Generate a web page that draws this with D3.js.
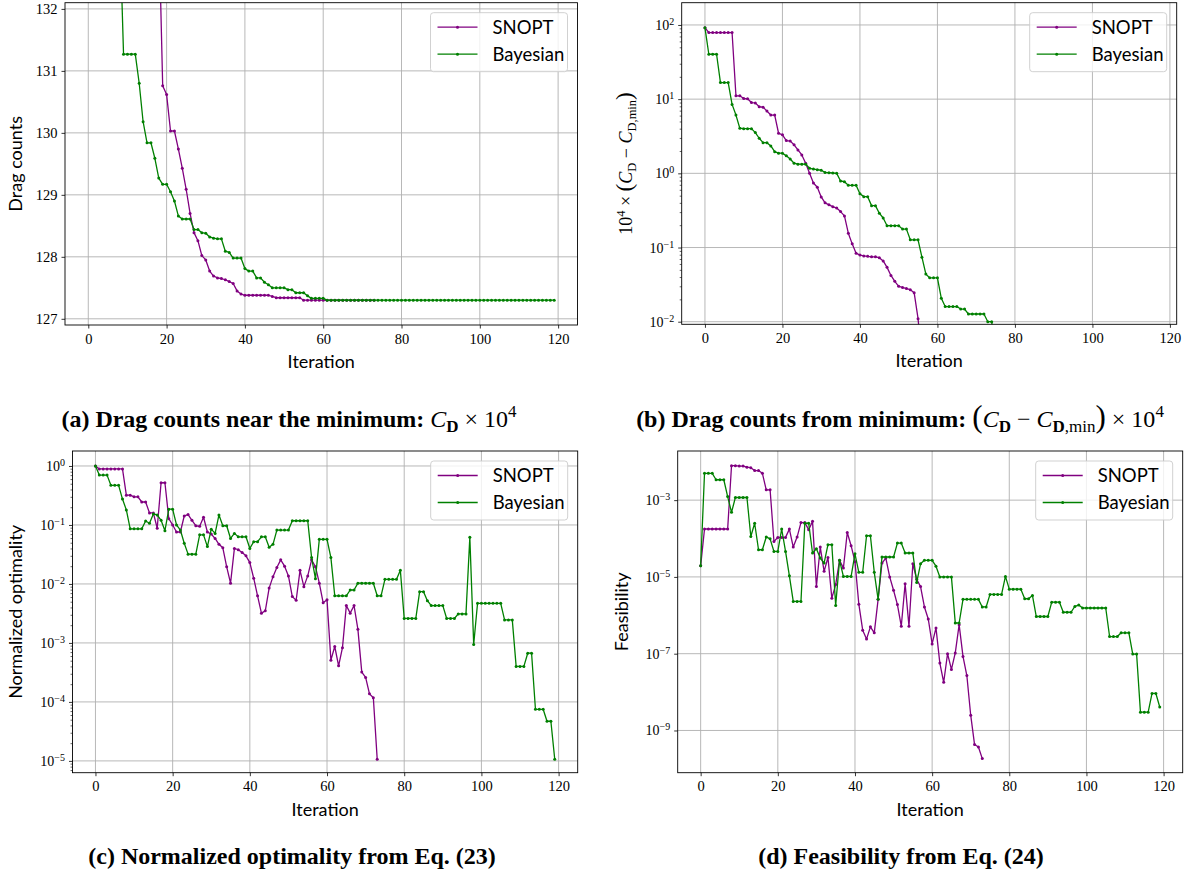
<!DOCTYPE html>
<html>
<head>
<meta charset="utf-8">
<script src="https://cdn.jsdelivr.net/npm/d3@7/dist/d3.min.js"></script>
<style>
  body { margin: 0; background: #fff; }
  svg { display: block; }
</style>
</head>
<body>
<svg id="fig" width="1188" height="882"></svg>
<script>
// shared
const iterTicks = [0, 20, 40, 60, 80, 100, 120];
const seriesNames = ["SNOPT", "Bayesian"];
const seriesColors = ["#800080", "#008000"];

// (a) drag counts, C_D x 1e4
const dragSnopt = [
  219.3, 206.3, 206.3, 206.3, 206.3, 206.3, 206.3, 206.3, 138.4, 138.4,
  137.5, 137.4, 136.3, 136.2, 135.2, 135.1, 134.2, 133.4, 133.4, 130.76,
  130.62, 130.03, 130.03, 129.74, 129.43, 129.09, 128.70, 128.39, 128.26, 128.02,
  127.95, 127.77, 127.69, 127.66, 127.65, 127.63, 127.60, 127.57, 127.45, 127.40,
  127.38, 127.38, 127.38, 127.38, 127.38, 127.38, 127.38, 127.36, 127.34, 127.34,
  127.34, 127.34, 127.34, 127.34, 127.34, 127.30, 127.30, 127.30, 127.30, 127.30,
  127.30, 127.30, 127.30, 127.30, 127.30, 127.30, 127.30, 127.30, 127.30, 127.30,
  127.30, 127.30, 127.30, 127.30
];
const dragBayes = [
  219.3, 167.6, 167.6, 167.6, 144.0, 144.0, 144.0, 135.8, 133.4, 131.27,
  131.27, 131.27, 131.27, 130.80, 130.18, 129.84, 129.84, 129.59, 129.27, 129.17,
  129.17, 129.05, 128.90, 128.66, 128.61, 128.61, 128.61, 128.44, 128.44, 128.39,
  128.38, 128.32, 128.30, 128.29, 128.29, 128.09, 128.07, 127.98, 127.98, 127.98,
  127.81, 127.77, 127.77, 127.66, 127.66, 127.59, 127.55, 127.50, 127.50, 127.50,
  127.50, 127.47, 127.47, 127.42, 127.42, 127.42, 127.37, 127.33, 127.33, 127.33,
  127.33, 127.30, 127.30, 127.30, 127.30, 127.30, 127.30, 127.30, 127.30, 127.30,
  127.30, 127.30, 127.30, 127.30, 127.30, 127.30, 127.30, 127.30, 127.30, 127.30,
  127.30, 127.30, 127.30, 127.30, 127.30, 127.30, 127.30, 127.30, 127.30, 127.30,
  127.30, 127.30, 127.30, 127.30, 127.30, 127.30, 127.30, 127.30, 127.30, 127.30,
  127.30, 127.30, 127.30, 127.30, 127.30, 127.30, 127.30, 127.30, 127.30, 127.30,
  127.30, 127.30, 127.30, 127.30, 127.30, 127.30, 127.30, 127.30, 127.30, 127.30
];
const dragTicks = [127, 128, 129, 130, 131, 132];

// (b) 1e4 x (C_D - C_D,min)
const deltaSnopt = [
  92, 79, 79, 79, 79, 79, 79, 79, 11.1, 11.1,
  10.2, 10.1, 9.0, 8.9, 7.9, 7.8, 6.9, 6.1, 6.1, 3.47,
  3.3, 2.76, 2.72, 2.42, 2.07, 1.77, 1.37, 1.0, 0.74, 0.65,
  0.48, 0.40, 0.376, 0.355, 0.34, 0.305, 0.267, 0.156, 0.112, 0.084,
  0.079, 0.077, 0.076, 0.075, 0.075, 0.073, 0.066, 0.054, 0.042, 0.035,
  0.030, 0.029, 0.028, 0.027, 0.0245, 0.011, 0.003
];
const deltaBayes = [
  92, 40.3, 40.3, 40.3, 16.7, 16.7, 16.7, 8.5, 6.1, 4.05,
  4.0, 4.0, 4.0, 3.54, 2.97, 2.59, 2.59, 2.34, 1.96, 1.87,
  1.87, 1.72, 1.56, 1.37, 1.33, 1.33, 1.33, 1.17, 1.14, 1.12,
  1.10, 1.03, 1.02, 1.01, 1.0, 0.79, 0.77, 0.69, 0.69, 0.69,
  0.53, 0.485, 0.485, 0.367, 0.367, 0.29, 0.25, 0.197, 0.197, 0.197,
  0.197, 0.177, 0.177, 0.127, 0.127, 0.127, 0.074, 0.044, 0.039, 0.039,
  0.039, 0.0207, 0.016, 0.016, 0.016, 0.016, 0.0148, 0.0148, 0.0127, 0.0127,
  0.0127, 0.0127, 0.0127, 0.010, 0.010, 0.004
];
const deltaTicks = [-2, -1, 0, 1, 2];

// (c) normalized optimality
const optSnopt = [
  1.0, 0.89, 0.89, 0.89, 0.89, 0.89, 0.89, 0.89, 0.32, 0.32,
  0.30, 0.30, 0.245, 0.245, 0.16, 0.16, 0.088, 0.52, 0.52, 0.128,
  0.10, 0.076, 0.076, 0.142, 0.15, 0.12, 0.097, 0.095, 0.135, 0.076,
  0.07, 0.059, 0.047, 0.041, 0.0195, 0.0103, 0.040, 0.038, 0.034, 0.030,
  0.023, 0.0125, 0.0063, 0.0032, 0.0035, 0.0085, 0.0133, 0.019, 0.0256, 0.020,
  0.0137, 0.0061, 0.0053, 0.017, 0.0090, 0.0137, 0.0256, 0.0196, 0.0103, 0.0048,
  0.0054, 0.00051, 0.00087, 0.00041, 0.00083, 0.0043, 0.0032, 0.0043, 0.0017, 0.00032,
  0.00026, 0.000137, 0.000118, 1.07e-5
];
const optBayes = [
  1.0, 0.70, 0.70, 0.70, 0.47, 0.47, 0.47, 0.275, 0.18, 0.086,
  0.086, 0.086, 0.086, 0.117, 0.107, 0.154, 0.148, 0.12, 0.08, 0.185,
  0.185, 0.10, 0.082, 0.049, 0.032, 0.032, 0.032, 0.068, 0.068, 0.043,
  0.085, 0.072, 0.148, 0.097, 0.097, 0.059, 0.072, 0.063, 0.063, 0.063,
  0.040, 0.052, 0.052, 0.063, 0.063, 0.042, 0.047, 0.082, 0.082, 0.082,
  0.082, 0.118, 0.118, 0.118, 0.118, 0.118, 0.028, 0.0123, 0.057, 0.057,
  0.057, 0.028, 0.0063, 0.0063, 0.0063, 0.0063, 0.0079, 0.0079, 0.0103, 0.0103,
  0.0103, 0.0103, 0.0103, 0.0063, 0.0063, 0.012, 0.012, 0.012, 0.012, 0.017,
  0.0026, 0.0026, 0.0026, 0.0026, 0.0074, 0.0074, 0.0052, 0.0043, 0.0043, 0.0043,
  0.0043, 0.0026, 0.0026, 0.0026, 0.0031, 0.0031, 0.0031, 0.062, 0.00094, 0.0047,
  0.0047, 0.0047, 0.0047, 0.0047, 0.0047, 0.0047, 0.00246, 0.00246, 0.00246, 0.0004,
  0.0004, 0.0004, 0.00067, 0.00067, 7.5e-5, 7.5e-5, 7.5e-5, 4.7e-5, 4.7e-5, 1.07e-5
];
const optTicks = [-5, -4, -3, -2, -1, 0];

// (d) feasibility
const feasSnopt = [
  1.94e-5, 1.77e-4, 1.77e-4, 1.77e-4, 1.77e-4, 1.77e-4, 1.77e-4, 1.77e-4, 7.9e-3, 7.9e-3,
  7.7e-3, 7.7e-3, 7.2e-3, 7.0e-3, 5.9e-3, 5.9e-3, 5.0e-3, 1.86e-3, 1.86e-3, 8.4e-5,
  1.07e-4, 1.07e-4, 1.07e-4, 1.76e-4, 6.0e-5, 1.09e-4, 2.6e-4, 2.6e-4, 1.7e-4, 2.8e-4,
  5.6e-6, 6.0e-5, 1.4e-5, 3.2e-5, 2.8e-6, 6.3e-6, 2.7e-5, 1.7e-5, 1.44e-4, 6.5e-5,
  2.5e-5, 1.95e-6, 4.1e-7, 2.4e-7, 5.0e-7, 3.5e-7, 2.6e-6, 2.3e-5, 3.1e-5, 1.0e-5,
  4.5e-6, 1.9e-6, 5.2e-7, 6.6e-6, 5.2e-7, 2.2e-5, 8.7e-6, 5.6e-6, 1.65e-6, 8.0e-7,
  1.8e-7, 4.7e-7, 5.7e-8, 1.8e-8, 1.0e-7, 3.9e-8, 1.05e-7, 5.7e-7, 8.5e-8, 2.7e-8,
  2.5e-9, 4.3e-10, 3.7e-10, 1.85e-10
];
const feasBayes = [
  1.94e-5, 5.0e-3, 5.0e-3, 5.0e-3, 3.4e-3, 3.4e-3, 3.4e-3, 1.24e-3, 4.8e-4, 1.17e-3,
  1.17e-3, 1.17e-3, 1.17e-3, 1.13e-4, 2.5e-4, 5.1e-5, 5.1e-5, 1.1e-4, 9.8e-5, 4.6e-5,
  4.6e-5, 1.77e-4, 4.6e-5, 1.07e-5, 2.3e-6, 2.3e-6, 2.3e-6, 2.5e-4, 2.5e-4, 4.2e-5,
  5.4e-5, 3.1e-5, 2.3e-5, 6.9e-5, 6.9e-5, 1.8e-6, 2.7e-5, 1.03e-5, 1.03e-5, 1.03e-5,
  4.0e-5, 1.32e-5, 1.32e-5, 1.18e-4, 1.18e-4, 1.32e-5, 2.6e-6, 3.3e-5, 3.3e-5, 3.3e-5,
  3.3e-5, 7.6e-5, 7.6e-5, 4.2e-5, 4.2e-5, 4.2e-5, 7.2e-6, 2.2e-5, 2.7e-5, 2.7e-5,
  2.7e-5, 1.9e-5, 1.0e-5, 1.0e-5, 1.0e-5, 1.0e-5, 6.3e-7, 6.3e-7, 2.6e-6, 2.6e-6,
  2.6e-6, 2.6e-6, 2.6e-6, 1.65e-6, 1.65e-6, 3.5e-6, 3.5e-6, 3.5e-6, 3.5e-6, 1.03e-5,
  4.8e-6, 4.8e-6, 4.8e-6, 4.8e-6, 2.7e-6, 2.7e-6, 3.3e-6, 9.3e-7, 9.3e-7, 9.3e-7,
  9.3e-7, 2.2e-6, 2.2e-6, 2.2e-6, 1.2e-6, 1.2e-6, 1.2e-6, 1.7e-6, 1.85e-6, 1.55e-6,
  1.55e-6, 1.55e-6, 1.55e-6, 1.55e-6, 1.55e-6, 1.55e-6, 2.8e-7, 2.8e-7, 2.8e-7, 3.5e-7,
  3.5e-7, 3.5e-7, 9.8e-8, 9.8e-8, 3.0e-9, 3.0e-9, 3.0e-9, 9.2e-9, 9.2e-9, 4.1e-9
];
const feasTicks = [-9, -7, -5, -3];

const svg = d3.select("#fig");
const gridColor = "#b0b0b0";
const serif = '"Liberation Serif", "Times New Roman", serif';
const sans = 'Lato, "DejaVu Sans", sans-serif';

function logLabel(sel, p) {
  sel.text("10").style("font-size", "14px");
  sel.append("tspan").attr("dy", "-0.5em").style("font-size", "10px")
    .text(p < 0 ? "\u2212" + (-p) : String(p));
}

function drawPanel(cfg) {
  const g = svg.append("g");
  const x = d3.scaleLinear().domain(cfg.xDomain).range([cfg.x0, cfg.x1]);
  const y = (cfg.log ? d3.scaleLog() : d3.scaleLinear()).domain(cfg.yDomain).range([cfg.y1, cfg.y0]);
  const yVals = cfg.log ? cfg.yTicks.map(p => Math.pow(10, p)) : cfg.yTicks;

  // grid
  g.append("g").selectAll("line").data(iterTicks).join("line")
    .attr("x1", d => x(d)).attr("x2", d => x(d))
    .attr("y1", cfg.y0).attr("y2", cfg.y1)
    .attr("stroke", gridColor).attr("stroke-width", 0.9);
  g.append("g").selectAll("line").data(yVals).join("line")
    .attr("x1", cfg.x0).attr("x2", cfg.x1)
    .attr("y1", d => y(d)).attr("y2", d => y(d))
    .attr("stroke", gridColor).attr("stroke-width", 0.9);

  // series
  const clipId = "clip-" + cfg.id;
  svg.append("clipPath").attr("id", clipId).append("rect")
    .attr("x", cfg.x0).attr("y", cfg.y0)
    .attr("width", cfg.x1 - cfg.x0).attr("height", cfg.y1 - cfg.y0);
  const plot = g.append("g").attr("clip-path", `url(#${clipId})`);
  const line = d3.line().x((d, i) => x(i)).y(d => y(d));
  cfg.series.forEach((vals, k) => {
    plot.append("path").datum(vals)
      .attr("d", line).attr("fill", "none")
      .attr("stroke", seriesColors[k]).attr("stroke-width", 1.3)
      .attr("stroke-linejoin", "round");
    plot.append("g").selectAll("circle").data(vals).join("circle")
      .attr("cx", (d, i) => x(i)).attr("cy", d => y(d)).attr("r", 1.5)
      .attr("fill", seriesColors[k]);
  });

  // axes
  const xAxis = g.append("g").attr("transform", `translate(0,${cfg.y1})`)
    .call(d3.axisBottom(x).tickValues(iterTicks).tickSize(3.5).tickPadding(5));
  xAxis.select(".domain").remove();
  xAxis.selectAll(".tick line").attr("stroke", "#000").attr("stroke-width", 0.8);
  xAxis.selectAll(".tick text").style("font-family", serif).style("font-size", "14.5px");

  const yAxis = g.append("g").attr("transform", `translate(${cfg.x0},0)`)
    .call(d3.axisLeft(y).tickValues(yVals).tickSize(3.5).tickPadding(4)
      .tickFormat(cfg.log ? () => "" : d3.format("d")));
  yAxis.select(".domain").remove();
  yAxis.selectAll(".tick line").attr("stroke", "#000").attr("stroke-width", 0.8);
  yAxis.selectAll(".tick text").style("font-family", serif).style("font-size", "14.5px");
  if (cfg.log) {
    yAxis.selectAll(".tick text").each(function(d, i) {
      logLabel(d3.select(this), cfg.yTicks[i]);
    });
  }
  if (cfg.minor) {
    const lo = Math.floor(Math.log10(cfg.yDomain[0]));
    const hi = Math.ceil(Math.log10(cfg.yDomain[1]));
    const minor = [];
    for (let p = lo; p <= hi; p++) {
      for (let m = 2; m <= 9; m++) {
        const v = m * Math.pow(10, p);
        if (v >= cfg.yDomain[0] && v <= cfg.yDomain[1]) minor.push(v);
      }
    }
    const mAxis = g.append("g").attr("transform", `translate(${cfg.x0},0)`)
      .call(d3.axisLeft(y).tickValues(minor).tickSize(2).tickFormat(""));
    mAxis.select(".domain").remove();
    mAxis.selectAll(".tick line").attr("stroke", "#000").attr("stroke-width", 0.6);
  }

  // spines
  g.append("rect")
    .attr("x", cfg.x0).attr("y", cfg.y0)
    .attr("width", cfg.x1 - cfg.x0).attr("height", cfg.y1 - cfg.y0)
    .attr("fill", "none").attr("stroke", "#000").attr("stroke-width", 0.9);

  // axis labels
  g.append("text")
    .style("font-family", sans).style("font-size", "18px")
    .attr("x", (cfg.x0 + cfg.x1) / 2).attr("y", cfg.y1 + 43)
    .attr("text-anchor", "middle").text("Iteration");
  const yl = g.append("text")
    .style("font-family", sans).style("font-size", "18px")
    .attr("transform", `translate(${cfg.yLabelX},${(cfg.y0 + cfg.y1) / 2}) rotate(-90)`)
    .attr("text-anchor", "middle");
  cfg.yLabel(yl);

  // legend
  const lx = cfg.x1 - 147, ly = cfg.y0 + 10;
  const lg = g.append("g").attr("transform", `translate(${lx},${ly})`);
  lg.append("rect").attr("width", 137).attr("height", 59).attr("rx", 3)
    .attr("fill", "#fff").attr("fill-opacity", 0.8)
    .attr("stroke", "#cccccc").attr("stroke-width", 0.9);
  seriesNames.forEach((name, k) => {
    const cy = 14.5 + k * 27;
    lg.append("line").attr("x1", 7).attr("x2", 47).attr("y1", cy).attr("y2", cy)
      .attr("stroke", seriesColors[k]).attr("stroke-width", 1.3);
    lg.append("circle").attr("cx", 27).attr("cy", cy).attr("r", 1.5).attr("fill", seriesColors[k]);
    lg.append("text").style("font-family", sans).style("font-size", "18.5px")
      .attr("x", 62).attr("y", cy + 6.5).text(name);
  });
}

drawPanel({
  id: "a", x0: 65, x1: 577.5, y0: 2.7, y1: 325,
  xDomain: [-5.95, 124.95], yDomain: [126.9, 132.1], log: false,
  yTicks: dragTicks, series: [dragSnopt, dragBayes], yLabelX: 22,
  yLabel: t => t.text("Drag counts")
});

drawPanel({
  id: "b", x0: 681.7, x1: 1176.7, y0: 2.7, y1: 324.3,
  xDomain: [-6.0, 121.75], yDomain: [Math.pow(10, -2.035), Math.pow(10, 2.30)], log: true, minor: true,
  yTicks: deltaTicks, series: [deltaSnopt, deltaBayes], yLabelX: 632,
  yLabel: t => {
    t.style("font-family", serif).style("font-size", "18px");
    t.append("tspan").text("10");
    t.append("tspan").attr("dy", -7).style("font-size", "12.5px").text("4");
    t.append("tspan").attr("dy", 7).text(" \u00d7 ");
    t.append("tspan").style("font-size", "23px").text("(");
    t.append("tspan").style("font-style", "italic").text("C");
    t.append("tspan").attr("dy", 4).style("font-size", "12.5px").text("D");
    t.append("tspan").attr("dy", -4).text(" \u2212 ");
    t.append("tspan").style("font-style", "italic").text("C");
    t.append("tspan").attr("dy", 4).style("font-size", "12.5px").text("D,min");
    t.append("tspan").attr("dy", -4).style("font-size", "23px").text(")");
  }
});

drawPanel({
  id: "c", x0: 72.5, x1: 577.7, y0: 451, y1: 772.7,
  xDomain: [-5.95, 124.95], yDomain: [Math.pow(10, -5.2), Math.pow(10, 0.254)], log: true, minor: true,
  yTicks: optTicks, series: [optSnopt, optBayes], yLabelX: 22,
  yLabel: t => t.text("Normalized optimality")
});

drawPanel({
  id: "d", x0: 677.7, x1: 1182.7, y0: 451, y1: 772.7,
  xDomain: [-5.95, 124.95], yDomain: [Math.pow(10, -10.1), Math.pow(10, -1.72)], log: true, minor: false,
  yTicks: feasTicks, series: [feasSnopt, feasBayes], yLabelX: 628,
  yLabel: t => t.text("Feasibility")
});

// captions
function caption(xc, yb, build) {
  const t = svg.append("text")
    .style("font-family", serif).style("font-size", "24px").style("font-weight", "bold")
    .attr("x", xc).attr("y", yb).attr("text-anchor", "middle");
  build(t);
}
caption(289, 426.5, t => {
  t.append("tspan").text("(a) Drag counts near the minimum: ");
  t.append("tspan").style("font-style", "italic").style("font-weight", "normal").text("C");
  t.append("tspan").attr("dy", 5).style("font-size", "17px").text("D");
  t.append("tspan").attr("dy", -5).style("font-weight", "normal").text(" \u00d7 10");
  t.append("tspan").attr("dy", -10).style("font-size", "17px").style("font-weight", "normal").text("4");
});
caption(900, 426.5, t => {
  t.append("tspan").text("(b) Drag counts from minimum: ");
  t.append("tspan").style("font-size", "31px").style("font-weight", "normal").text("(");
  t.append("tspan").style("font-style", "italic").style("font-weight", "normal").text("C");
  t.append("tspan").attr("dy", 5).style("font-size", "17px").text("D");
  t.append("tspan").attr("dy", -5).style("font-weight", "normal").text(" \u2212 ");
  t.append("tspan").style("font-style", "italic").style("font-weight", "normal").text("C");
  t.append("tspan").attr("dy", 5).style("font-size", "17px").text("D");
  t.append("tspan").style("font-size", "17px").style("font-weight", "normal").text(",min");
  t.append("tspan").attr("dy", -5).style("font-size", "31px").style("font-weight", "normal").text(")");
  t.append("tspan").style("font-weight", "normal").text(" \u00d7 10");
  t.append("tspan").attr("dy", -10).style("font-size", "17px").style("font-weight", "normal").text("4");
});
caption(292, 864, t => t.text("(c) Normalized optimality from Eq. (23)"));
caption(901, 864, t => t.text("(d) Feasibility from Eq. (24)"));
</script>
</body>
</html>
